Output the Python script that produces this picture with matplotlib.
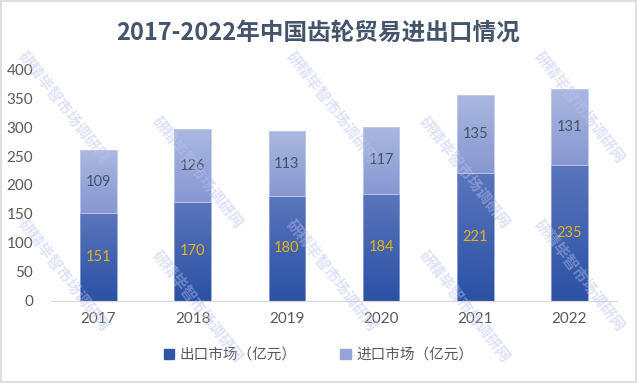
import numpy as np
import matplotlib
matplotlib.use('Agg')
import matplotlib.pyplot as plt
from matplotlib.colors import LinearSegmentedColormap
from matplotlib.patches import Rectangle

plt.rcParams['font.family'] = ['Lato', 'Noto Sans CJK SC', 'DejaVu Sans']

# 数据
years = ['2017', '2018', '2019', '2020', '2021', '2022']
export_vals = [151, 170, 180, 184, 221, 235]
import_vals = [109, 126, 113, 117, 135, 131]
title = '2017-2022年中国齿轮贸易进出口情况'
legend_labels = ['出口市场（亿元）', '进口市场（亿元）']

fig = plt.figure(figsize=(6.37, 3.83), dpi=100)
ax = fig.add_axes([0.0807, 0.2154, 0.8873, 0.6036])

x = np.arange(len(years))
w = 0.39

# 先画普通柱子，再用渐变填充
bars_exp = ax.bar(x, export_vals, w, color='#3a5cae', edgecolor='#8fa3d8', linewidth=0.6)
bars_imp = ax.bar(x, import_vals, w, bottom=export_vals, color='#97a7d8', edgecolor='#c0cbeb', linewidth=0.6)

cm_exp = LinearSegmentedColormap.from_list('exp', ['#2b51a5', '#5a75bc'])
cm_imp = LinearSegmentedColormap.from_list('imp', ['#8797d0', '#abb8e1'])
grad = np.linspace(0, 1, 256).reshape(-1, 1)

for bars, cm in [(bars_exp, cm_exp), (bars_imp, cm_imp)]:
    for b in bars:
        bx, by = b.get_x(), b.get_y()
        bw, bh = b.get_width(), b.get_height()
        im = ax.imshow(grad, cmap=cm, origin='lower', aspect='auto',
                       extent=[bx, bx + bw, by, by + bh], zorder=b.get_zorder() - 0.1)
        im.set_clip_path(b)
        b.set_facecolor('none')

# 数据标签
for i in range(len(years)):
    ax.text(x[i], export_vals[i] / 2, str(export_vals[i]), ha='center', va='center',
            fontsize=10.5, color='#e3b417', zorder=5)
    ax.text(x[i], export_vals[i] + import_vals[i] / 2, str(import_vals[i]), ha='center', va='center',
            fontsize=10.5, color='#44546a', zorder=5)

ax.set_xlim(-0.5, len(years) - 0.5)
ax.set_ylim(0, 400)
ax.set_yticks(range(0, 401, 50))
ax.set_xticks(x)
ax.set_xticklabels(years)
ax.tick_params(axis='both', length=0, labelsize=11, labelcolor='#595959')
ax.tick_params(axis='x', pad=8)
ax.tick_params(axis='y', pad=13)
for s in ['top', 'right', 'left']:
    ax.spines[s].set_visible(False)
ax.spines['bottom'].set_color('#d9d9d9')

fig.text(0.5, 0.915, title, ha='center', va='center', fontsize=17, fontweight='bold',
         color='#44546a', family=['Noto Sans CJK SC', 'DejaVu Sans'])

# 图例
handles = [Rectangle((0, 0), 1, 1, color='#2f55a8'), Rectangle((0, 0), 1, 1, color='#95a5d8')]
fig.legend(handles, legend_labels, loc='center', bbox_to_anchor=(0.5, 0.073), ncol=2,
           frameon=False, labelcolor='#595959', handlelength=0.7, handleheight=0.7,
           handletextpad=0.4, columnspacing=3.0, prop={'family': ['Noto Sans CJK SC'], 'size': 10.5})

# 水印（保持在图内）
wm = '研精毕智市场调研网'
wm_pos = [(0.10, 0.72), (0.10, 0.28), (0.31, 0.55), (0.52, 0.72), (0.52, 0.28),
          (0.73, 0.55), (0.91, 0.72), (0.91, 0.28), (0.31, 0.20), (0.73, 0.20)]
for cx, cy in wm_pos:
    fig.text(cx, cy, wm, rotation=-52, fontsize=11, color='#b8c0ee', alpha=0.45,
             ha='center', va='center', family=['Noto Sans CJK SC'], fontweight='bold', zorder=10)

# 外框
fig.patches.append(Rectangle((0.002, 0.003), 0.996, 0.994, transform=fig.transFigure,
                             fill=False, edgecolor='#d9d9d9', linewidth=1.2))

fig.savefig('out.png', dpi=100)
